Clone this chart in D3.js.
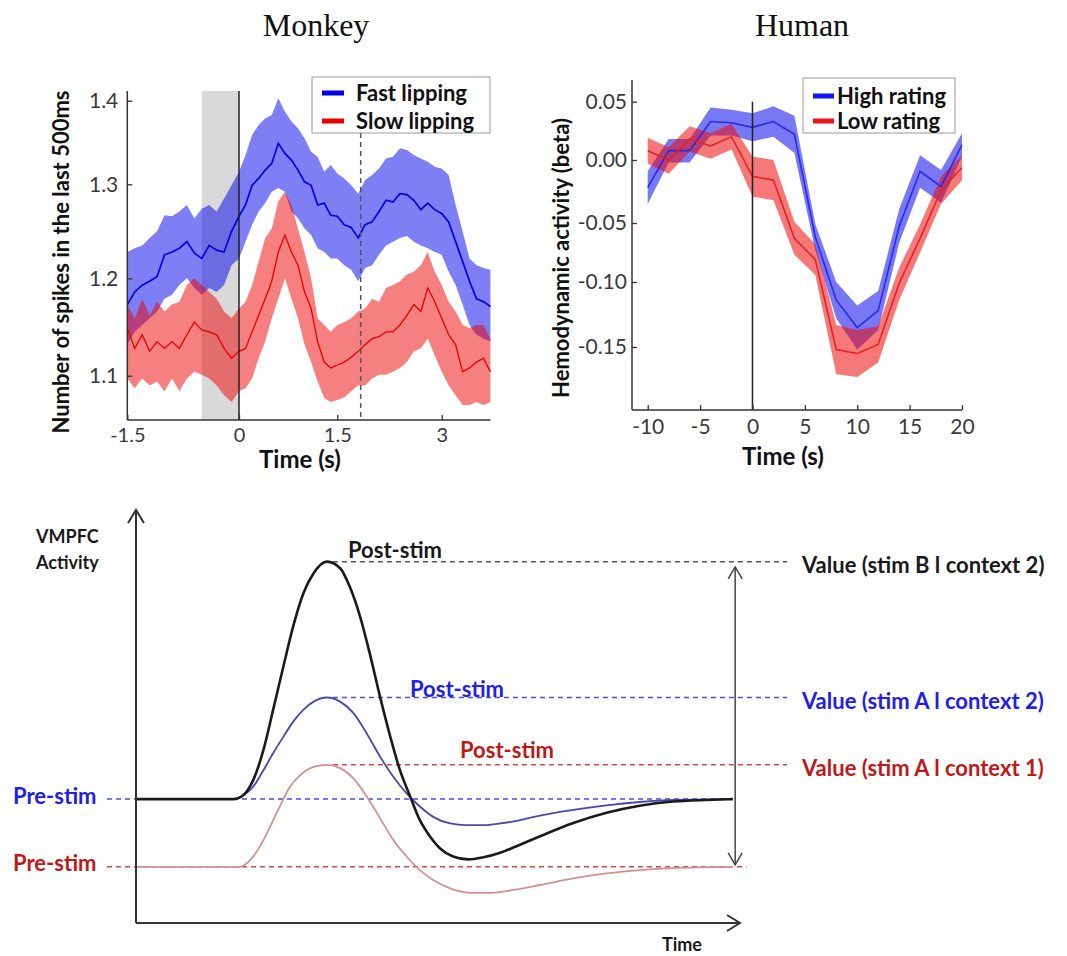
<!DOCTYPE html>
<html><head><meta charset="utf-8">
<script src="https://cdn.jsdelivr.net/npm/d3@7"></script>
<style>body{margin:0;background:#fff}svg{display:block}</style>
</head><body>
<svg id="c" width="1067" height="956"></svg>
<script>
// ---------------- DATA ----------------
// Monkey panel (time in s, spikes in last 500 ms)
const monkeyTime = [-1.5,-1.4,-1.3,-1.2,-1.1,-1.0,-0.9,-0.8,-0.7,-0.6,-0.5,-0.4,-0.3,-0.2,-0.1,0,
  0.1,0.2,0.3,0.4,0.5,0.6,0.7,0.8,0.9,1.0,1.1,1.2,1.3,1.4,1.5,1.6,1.7,1.8,1.9,2.0,
  2.1,2.2,2.3,2.4,2.5,2.6,2.7,2.8,2.9,3.0,3.1,3.2,3.3,3.4,3.5,3.6,3.7];
const fastMean = [1.173,1.186,1.193,1.197,1.202,1.225,1.228,1.232,1.239,1.227,1.221,1.235,1.230,1.228,1.250,1.266,1.278,1.299,1.307,1.317,1.325,1.349,1.337,1.329,1.317,1.303,
  1.299,1.278,1.280,1.267,1.266,1.257,1.254,1.243,1.257,1.260,1.271,1.283,1.281,1.290,1.289,1.283,1.273,1.280,1.273,1.269,1.260,1.239,1.218,1.197,1.179,1.176,1.171];
const fastUpper = [1.228,1.232,1.235,1.243,1.250,1.267,1.266,1.271,1.278,1.264,1.274,1.278,1.271,1.285,1.299,1.315,1.335,1.359,1.371,1.379,1.383,1.403,1.387,1.375,1.367,1.355,
  1.339,1.333,1.315,1.323,1.313,1.307,1.299,1.290,1.305,1.311,1.319,1.331,1.333,1.343,1.341,1.335,1.331,1.327,1.321,1.319,1.311,1.278,1.250,1.221,1.214,1.211,1.209];
const fastLower = [1.132,1.145,1.152,1.159,1.166,1.179,1.183,1.193,1.200,1.190,1.183,1.190,1.186,1.193,1.214,1.221,1.239,1.257,1.271,1.280,1.292,1.296,1.292,1.271,1.264,1.253,
  1.246,1.232,1.228,1.221,1.221,1.214,1.209,1.197,1.211,1.214,1.225,1.235,1.239,1.243,1.245,1.239,1.235,1.232,1.228,1.225,1.207,1.193,1.173,1.152,1.142,1.138,1.135];
const slowMean = [1.149,1.128,1.142,1.125,1.135,1.128,1.135,1.128,1.142,1.155,1.147,1.145,1.142,1.128,1.118,1.125,1.128,1.145,1.162,1.179,1.197,1.228,1.246,1.228,1.214,1.186,
  1.169,1.135,1.114,1.108,1.111,1.114,1.119,1.125,1.132,1.138,1.140,1.145,1.145,1.152,1.162,1.173,1.166,1.190,1.176,1.159,1.142,1.132,1.104,1.108,1.114,1.118,1.104];
const slowUpper = [1.173,1.159,1.179,1.162,1.176,1.166,1.173,1.176,1.193,1.200,1.193,1.186,1.179,1.166,1.159,1.169,1.176,1.193,1.218,1.243,1.253,1.282,1.292,1.278,1.253,1.228,
  1.200,1.159,1.152,1.145,1.152,1.155,1.159,1.166,1.169,1.179,1.176,1.190,1.193,1.197,1.204,1.207,1.214,1.228,1.207,1.193,1.176,1.166,1.152,1.149,1.152,1.152,1.138];
const slowLower = [1.097,1.087,1.097,1.090,1.094,1.084,1.097,1.084,1.097,1.104,1.101,1.097,1.090,1.080,1.073,1.084,1.087,1.097,1.118,1.135,1.159,1.179,1.200,1.179,1.159,1.132,
  1.114,1.094,1.077,1.073,1.075,1.078,1.084,1.090,1.090,1.097,1.101,1.101,1.104,1.108,1.114,1.125,1.128,1.138,1.121,1.104,1.090,1.080,1.070,1.070,1.073,1.070,1.073];
const monkeyXTicks = [-1.5, 0, 1.5, 3];
const monkeyYTicks = [1.1, 1.2, 1.3, 1.4];
const monkeyShade = [-0.5, 0];
const monkeyEventTime = 1.836;
const monkeyLegend = ["Fast lipping", "Slow lipping"];

// Human panel (time in s, beta)
const humanTime = [-10,-8,-6,-4,-2,0,2,4,6,8,10,12,14,16,18,20];
const highMean = [-0.022,0.008,0.008,0.033,0.032,0.028,0.033,0.022,-0.062,-0.114,-0.135,-0.122,-0.053,-0.009,-0.021,0.013];
const highSE   = [0.013,0.010,0.010,0.012,0.011,0.012,0.013,0.016,0.011,0.014,0.017,0.015,0.014,0.013,0.013,0.010];
const lowMean  = [0.008,0.000,0.018,0.012,0.020,-0.013,-0.016,-0.063,-0.081,-0.152,-0.155,-0.148,-0.101,-0.063,-0.024,-0.006];
const lowSE    = [0.011,0.011,0.011,0.011,0.011,0.016,0.016,0.014,0.013,0.019,0.018,0.014,0.013,0.012,0.011,0.010];
const humanXTicks = [-10,-5,0,5,10,15,20];
const humanYTicks = [-0.15,-0.10,-0.05,0,0.05];
const humanLegend = ["High rating", "Low rating"];

// Schematic panel (arbitrary time 0-100, arbitrary activity 0-100)
const blackT = [0,16.1,17.8,19.4,21.1,22.7,24.4,26.0,27.7,29.4,31.6,33.8,35.4,37.1,38.7,40.4,42.1,43.7,45.4,47.0,48.7,50.3,52.5,55.0,57.5,60.3,63.0,66.9,72.4,77.9,83.4,88.9,94.4,98.8];
const blackA = [30,30,31.0,34.6,41.9,51.6,62.1,71.7,79.8,84.7,87.5,85.9,81.4,74.2,65.3,54.8,45.1,37.0,30.6,24.9,20.9,18.1,16.1,15.4,15.9,17.0,18.6,21.0,24.2,26.7,28.4,29.4,29.8,30.0];
const blueT = [0,16.1,17.8,19.4,21.1,22.7,24.4,26.0,27.7,29.4,31.6,33.8,36.0,38.2,40.4,42.6,44.8,47.0,49.2,52.0,54.7,57.5,60.3,63.6,66.9,72.4,77.9,83.4,88.9,98.8];
const blueA = [30,30,31.0,33.0,37.0,41.1,45.1,48.7,51.6,53.6,54.6,53.6,50.8,45.9,40.3,35.4,31.4,28.2,25.7,24.1,23.7,23.7,24.1,24.9,26.0,27.4,28.5,29.3,29.8,30.0];
const redT = [0,17.2,18.9,20.5,22.2,23.8,25.5,27.2,29.4,31.6,33.8,36.0,38.2,40.4,42.6,44.8,47.0,49.2,52.0,55.6,58.8,62.5,66.9,72.4,77.9,83.4,88.9,98.8];
const redA = [13.6,13.6,15.2,18.5,23.3,28.2,33.0,35.8,37.8,38.3,37.5,35.0,30.6,25.4,20.1,16.1,12.8,10.4,8.4,7.3,7.3,8.0,9.2,10.8,12.0,12.8,13.3,13.6];
const postLevels = [87.5, 54.6, 38.3];   // black, blue, red peaks
const preLevels = [30, 13.6];            // blue, red baselines
const valueLabels = ["Value (stim B l context 2)", "Value (stim A l context 2)", "Value (stim A l context 1)"];

// ---------------- DRAW ----------------
const svg = d3.select('#c').style('font-family', 'Lato, sans-serif');
svg.append('rect').attr('width', 1067).attr('height', 956).attr('fill', '#fff');
const AX = '#333';

function styleAxis(g, fs) {
  g.select('.domain').remove();
  g.selectAll('.tick line').attr('stroke', AX).attr('stroke-width', 1.3);
  g.selectAll('.tick text').attr('fill', '#3a3a3a').attr('font-family', 'Lato, sans-serif').attr('font-size', fs);
}

// Titles
svg.append('text').attr('x', 316).attr('y', 36).attr('text-anchor', 'middle')
  .attr('font-family', '"Liberation Serif", serif').attr('font-size', 32).attr('fill', '#111').text('Monkey');
svg.append('text').attr('x', 802).attr('y', 36).attr('text-anchor', 'middle')
  .attr('font-family', '"Liberation Serif", serif').attr('font-size', 32).attr('fill', '#111').text('Human');

// ===== Monkey =====
const xM = d3.scaleLinear().domain([-1.5, 0, 1.5, 3]).range([127.3, 239, 337.3, 441.7]);
const yM = d3.scaleLinear().domain([1.1, 1.2, 1.3, 1.4]).range([375.7, 278.3, 184.3, 100.7]);
const mTop = 1.4116, mBot = 1.0545, mEnd = 3.7;
const gM = svg.append('g');
gM.append('rect').attr('x', xM(monkeyShade[0])).attr('y', yM(mTop))
  .attr('width', xM(monkeyShade[1]) - xM(monkeyShade[0])).attr('height', yM(mBot) - yM(mTop)).attr('fill', '#d9d9d9');
const idx = monkeyTime.map((d, i) => i);
const areaM = (lo, hi) => d3.area().x(i => xM(monkeyTime[i])).y0(i => yM(lo[i])).y1(i => yM(hi[i]));
const lineM = (m) => d3.line().x(i => xM(monkeyTime[i])).y(i => yM(m[i]));
gM.append('path').attr('d', areaM(fastLower, fastUpper)(idx)).attr('fill', 'rgb(0,0,235)').attr('fill-opacity', 0.5);
gM.append('path').attr('d', areaM(slowLower, slowUpper)(idx)).attr('fill', 'rgb(238,0,0)').attr('fill-opacity', 0.5);
gM.append('path').attr('d', lineM(fastMean)(idx)).attr('fill', 'none').attr('stroke', '#0000e0').attr('stroke-width', 1.7);
gM.append('path').attr('d', lineM(slowMean)(idx)).attr('fill', 'none').attr('stroke', '#e80000').attr('stroke-width', 1.3);
gM.append('line').attr('x1', xM(0)).attr('x2', xM(0)).attr('y1', yM(mTop)).attr('y2', yM(mBot)).attr('stroke', '#222').attr('stroke-width', 1.5);
gM.append('line').attr('x1', xM(monkeyEventTime)).attr('x2', xM(monkeyEventTime)).attr('y1', 133).attr('y2', yM(mBot))
  .attr('stroke', '#555').attr('stroke-width', 1.5).attr('stroke-dasharray', '5,4');
// axes
gM.append('g').attr('transform', `translate(0,${yM(mBot)})`)
  .call(d3.axisBottom(xM).tickValues(monkeyXTicks).tickSizeInner(-5).tickSizeOuter(0).tickPadding(8).tickFormat(d => String(d)))
  .call(g => styleAxis(g, 20));
gM.append('g').attr('transform', `translate(${xM(-1.5)},0)`)
  .call(d3.axisLeft(yM).tickValues(monkeyYTicks).tickSizeInner(-5).tickSizeOuter(0).tickPadding(9).tickFormat(d => d.toFixed(1)))
  .call(g => styleAxis(g, 21));
gM.append('line').attr('x1', xM(-1.5)).attr('x2', xM(mEnd)).attr('y1', yM(mBot)).attr('y2', yM(mBot)).attr('stroke', AX).attr('stroke-width', 1.5);
gM.append('line').attr('x1', xM(-1.5)).attr('x2', xM(-1.5)).attr('y1', yM(mTop)).attr('y2', yM(mBot)).attr('stroke', AX).attr('stroke-width', 1.5);
gM.append('text').attr('x', 300).attr('y', 468).attr('text-anchor', 'middle').attr('font-weight', 700).attr('font-size', 24).attr('fill', '#111').text('Time (s)');
gM.append('text').attr('transform', 'translate(69,262) rotate(-90)').attr('text-anchor', 'middle').attr('font-weight', 700)
  .attr('font-size', 22).attr('fill', '#111').text('Number of spikes in the last 500ms');
// legend
const lgM = gM.append('g');
lgM.append('rect').attr('x', 312).attr('y', 77).attr('width', 178).attr('height', 56).attr('fill', '#fff').attr('stroke', '#9a9a9a').attr('stroke-width', 1);
[['#0000e6', 93], ['#e80000', 121]].forEach((c, i) => {
  lgM.append('line').attr('x1', 322).attr('x2', 344).attr('y1', c[1]).attr('y2', c[1]).attr('stroke', c[0]).attr('stroke-width', 5);
  lgM.append('text').attr('x', 356).attr('y', c[1] + 8).attr('font-weight', 700).attr('font-size', 22).attr('fill', '#111').text(monkeyLegend[i]);
});

// ===== Human =====
const xH = d3.scaleLinear().domain([-11.5, 20]).range([632, 962]);
const yH = d3.scaleLinear().domain([-0.15, -0.10, -0.05, 0, 0.05]).range([347, 282, 223, 160, 101.7]);
const hTop = 0.0686, hBot = -0.1985;
const gH = svg.append('g');
const hIdx = humanTime.map((d, i) => i);
const areaH = (m, se) => d3.area().x(i => xH(humanTime[i])).y0(i => yH(m[i] - se[i])).y1(i => yH(m[i] + se[i]));
const lineH = (m) => d3.line().x(i => xH(humanTime[i])).y(i => yH(m[i]));
gH.append('path').attr('d', areaH(highMean, highSE)(hIdx)).attr('fill', 'rgb(10,10,235)').attr('fill-opacity', 0.55);
gH.append('path').attr('d', areaH(lowMean, lowSE)(hIdx)).attr('fill', 'rgb(238,10,10)').attr('fill-opacity', 0.55);
gH.append('path').attr('d', lineH(highMean)(hIdx)).attr('fill', 'none').attr('stroke', '#2a2ae6').attr('stroke-width', 1.6);
gH.append('path').attr('d', lineH(lowMean)(hIdx)).attr('fill', 'none').attr('stroke', '#e02424').attr('stroke-width', 1.6);
gH.append('line').attr('x1', xH(0)).attr('x2', xH(0)).attr('y1', yH(0.05)).attr('y2', yH(hBot)).attr('stroke', '#222').attr('stroke-width', 1.5);
gH.append('g').attr('transform', `translate(0,${yH(hBot)})`)
  .call(d3.axisBottom(xH).tickValues(humanXTicks).tickSizeInner(-5).tickSizeOuter(0).tickPadding(9).tickFormat(d => String(d)))
  .call(g => styleAxis(g, 21));
gH.append('g').attr('transform', `translate(${xH(-11.5)},0)`)
  .call(d3.axisLeft(yH).tickValues(humanYTicks).tickSizeInner(-5).tickSizeOuter(0).tickPadding(5).tickFormat(d => d.toFixed(2)))
  .call(g => styleAxis(g, 21));
gH.append('line').attr('x1', xH(-11.5)).attr('x2', xH(20)).attr('y1', yH(hBot)).attr('y2', yH(hBot)).attr('stroke', AX).attr('stroke-width', 1.5);
gH.append('line').attr('x1', xH(-11.5)).attr('x2', xH(-11.5)).attr('y1', yH(hTop)).attr('y2', yH(hBot)).attr('stroke', AX).attr('stroke-width', 1.5);
gH.append('text').attr('x', 783).attr('y', 465).attr('text-anchor', 'middle').attr('font-weight', 700).attr('font-size', 24).attr('fill', '#111').text('Time (s)');
gH.append('text').attr('transform', 'translate(569,258) rotate(-90)').attr('text-anchor', 'middle').attr('font-weight', 700)
  .attr('font-size', 22).attr('fill', '#111').text('Hemodynamic activity (beta)');
const lgH = gH.append('g');
lgH.append('rect').attr('x', 803).attr('y', 78).attr('width', 152).attr('height', 55).attr('fill', '#fff').attr('stroke', '#9a9a9a').attr('stroke-width', 1);
[['#1414ee', 96], ['#ee1414', 121]].forEach((c, i) => {
  lgH.append('line').attr('x1', 813).attr('x2', 834).attr('y1', c[1]).attr('y2', c[1]).attr('stroke', c[0]).attr('stroke-width', 5);
  lgH.append('text').attr('x', 837).attr('y', c[1] + 8).attr('font-weight', 700).attr('font-size', 22).attr('fill', '#111').text(humanLegend[i]);
});

// ===== Schematic =====
const xS = d3.scaleLinear().domain([0, 100]).range([136, 740]);
const yS = d3.scaleLinear().domain([0, 100]).range([923, 510]);
const gS = svg.append('g');
const postColors = ['#555', '#4a4af0', '#d04848'];
const preColors = ['#4a4af0', '#d04848'];
// dashed reference lines
postLevels.forEach((lv, i) => {
  gS.append('line').attr('x1', xS(32.6)).attr('x2', xS(107.8)).attr('y1', yS(lv)).attr('y2', yS(lv))
    .attr('stroke', postColors[i]).attr('stroke-width', 1.5).attr('stroke-dasharray', '5,4');
});
gS.append('line').attr('x1', xS(-4.8)).attr('x2', xS(98.8)).attr('y1', yS(preLevels[0])).attr('y2', yS(preLevels[0]))
  .attr('stroke', preColors[0]).attr('stroke-width', 1.5).attr('stroke-dasharray', '5,4');
gS.append('line').attr('x1', xS(-4.8)).attr('x2', xS(101.1)).attr('y1', yS(preLevels[1])).attr('y2', yS(preLevels[1]))
  .attr('stroke', preColors[1]).attr('stroke-width', 1.5).attr('stroke-dasharray', '5,4');
// curves
const lineS = (T, A) => d3.line().curve(d3.curveMonotoneX).x(i => xS(T[i])).y(i => yS(A[i]))(T.map((d, i) => i));
gS.append('path').attr('d', lineS(redT, redA)).attr('fill', 'none').attr('stroke', '#d49090').attr('stroke-width', 1.8);
gS.append('path').attr('d', lineS(blueT, blueA)).attr('fill', 'none').attr('stroke', '#4848b0').attr('stroke-width', 1.8);
gS.append('path').attr('d', lineS(blackT, blackA)).attr('fill', 'none').attr('stroke', '#1a1a1a').attr('stroke-width', 2.6);
// axes with arrows
gS.append('line').attr('x1', xS(0)).attr('x2', xS(0)).attr('y1', yS(0)).attr('y2', yS(100)).attr('stroke', AX).attr('stroke-width', 2);
gS.append('path').attr('d', `M${xS(0) - 8},${yS(100) + 13}L${xS(0)},${yS(100)}L${xS(0) + 8},${yS(100) + 13}`).attr('fill', 'none').attr('stroke', AX).attr('stroke-width', 2);
gS.append('line').attr('x1', xS(0)).attr('x2', xS(100)).attr('y1', yS(0)).attr('y2', yS(0)).attr('stroke', AX).attr('stroke-width', 2);
gS.append('path').attr('d', `M${xS(100) - 13},${yS(0) - 8}L${xS(100)},${yS(0)}L${xS(100) - 13},${yS(0) + 8}`).attr('fill', 'none').attr('stroke', AX).attr('stroke-width', 2);
// double arrow
const ax2 = xS(99.2), yTopA = yS(86.2), yBotA = yS(14.1);
gS.append('line').attr('x1', ax2).attr('x2', ax2).attr('y1', yTopA).attr('y2', yBotA).attr('stroke', '#444').attr('stroke-width', 1.5);
gS.append('path').attr('d', `M${ax2 - 7},${yTopA + 12}L${ax2},${yTopA}L${ax2 + 7},${yTopA + 12}`).attr('fill', 'none').attr('stroke', '#444').attr('stroke-width', 1.5);
gS.append('path').attr('d', `M${ax2 - 7},${yBotA - 12}L${ax2},${yBotA}L${ax2 + 7},${yBotA - 12}`).attr('fill', 'none').attr('stroke', '#444').attr('stroke-width', 1.5);
// labels
const txt = (x, y, s, col, fs, w) => gS.append('text').attr('x', x).attr('y', y).attr('fill', col).attr('font-size', fs).attr('font-weight', w).text(s);
txt(36, 543, 'VMPFC', '#1a1a1a', 18, 700);
txt(36, 569, 'Activity', '#1a1a1a', 18, 700);
const textColors = ['#1a1a1a', '#2020e8', '#c01818'];
txt(348, yS(postLevels[0]) - 4, 'Post-stim', textColors[0], 22, 700);
txt(410, yS(postLevels[1]) - 1, 'Post-stim', textColors[1], 22, 700);
txt(460, yS(postLevels[2]) - 7, 'Post-stim', textColors[2], 22, 700);
txt(13, yS(preLevels[0]) + 5, 'Pre-stim', textColors[1], 22, 700);
txt(13, yS(preLevels[1]) + 4, 'Pre-stim', textColors[2], 22, 700);
valueLabels.forEach((s, i) => txt(802, yS(postLevels[i]) + 11, s, textColors[i], 22, 700));
txt(662, 951, 'Time', '#1a1a1a', 18, 700);
</script>
</body></html>
